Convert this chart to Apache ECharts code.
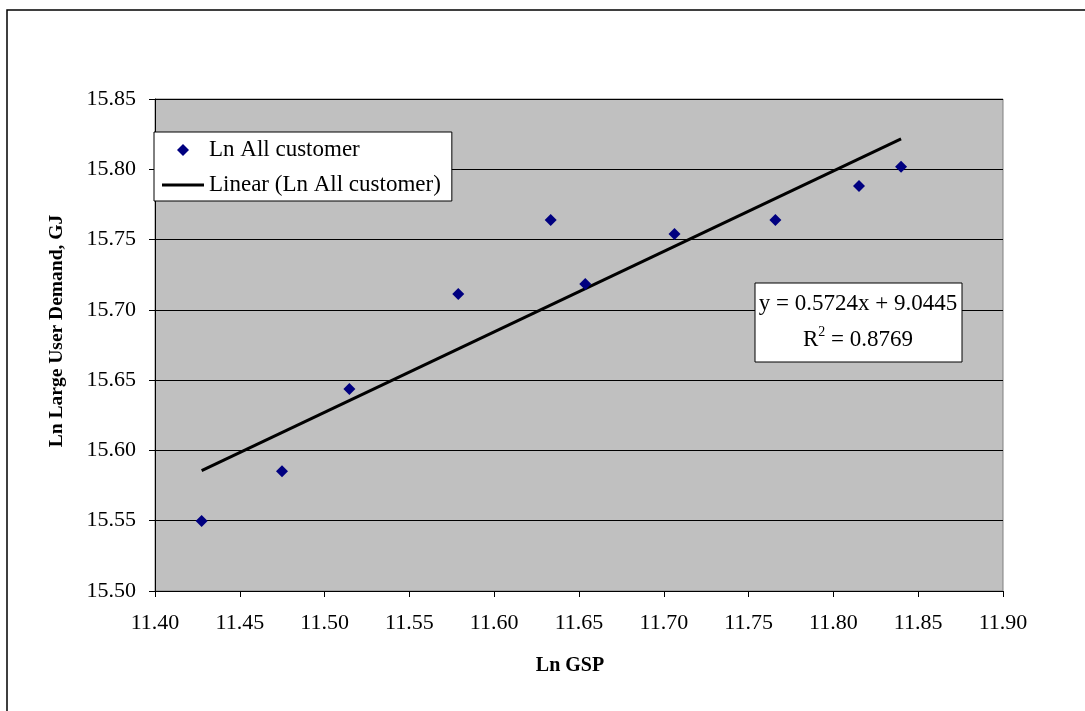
<!DOCTYPE html>
<html>
<head>
<meta charset="utf-8">
<script src="https://cdn.jsdelivr.net/npm/echarts@6/dist/echarts.min.js"></script>
<style>
html,body{margin:0;padding:0;background:#fff;}
#chart{width:1085px;height:711px;}
</style>
</head>
<body>
<div id="chart"></div>
<script>
// ---- data ----
const lnGSP = [11.4275, 11.4749, 11.5146, 11.5788, 11.6333, 11.6537, 11.7063, 11.7658, 11.8151, 11.8399];
const lnDemand = [15.5498, 15.5851, 15.6437, 15.7113, 15.7640, 15.7184, 15.7540, 15.7640, 15.7881, 15.8018];
const trendX = [11.4275, 11.8399];
const trendY = [15.5856, 15.8216];
const seriesNames = ['Ln All customer', 'Linear (Ln All customer)'];
const equationText = 'y = 0.5724x + 9.0445';
const r2Text = '0.8769';
const xTitle = 'Ln GSP';
const yTitle = 'Ln Large User Demand, GJ';

const FONT = '"Liberation Serif", "DejaVu Serif", serif';

// legend icons: bounding box 42x13 kept by the leading moves
const ICON_DIAMOND = 'path://M0,0 M42,13 M21,0.5 L27,6.5 L21,12.5 L15,6.5 Z';
const ICON_LINE = 'path://M0,0 M42,13 M0,5 L42,5 L42,8 L0,8 Z';

const chart = echarts.init(document.getElementById('chart'), null, {renderer: 'canvas'});
const option = {
  backgroundColor: '#ffffff',
  animation: false,
  grid: {left: 155, top: 99, width: 848, height: 492, show: true, backgroundColor: '#c0c0c0', borderColor: '#808080', borderWidth: 1},
  xAxis: {
    type: 'value', min: 11.40, max: 11.90, interval: 0.05,
    name: xTitle, nameLocation: 'middle', nameGap: 65,
    nameTextStyle: {fontFamily: FONT, fontWeight: 'bold', fontSize: 20, color: '#000', padding: [0, 18, 0, 0]},
    axisLine: {show: true, onZero: false, lineStyle: {color: '#000', width: 1}},
    axisTick: {show: true, inside: false, length: 6, lineStyle: {color: '#000'}},
    axisLabel: {fontFamily: FONT, fontSize: 22, color: '#000', margin: 21, formatter: v => v.toFixed(2)},
    splitLine: {show: false}
  },
  yAxis: {
    type: 'value', min: 15.50, max: 15.85, interval: 0.05,
    name: yTitle, nameLocation: 'middle', nameGap: 88, nameRotate: 90,
    nameTextStyle: {fontFamily: FONT, fontWeight: 'bold', fontSize: 19.5, color: '#000', padding: [0, 0, 0, 28]},
    axisLine: {show: true, onZero: false, lineStyle: {color: '#000', width: 1}},
    axisTick: {show: true, inside: false, length: 6, lineStyle: {color: '#000'}},
    axisLabel: {fontFamily: FONT, fontSize: 22, color: '#000', margin: 19, formatter: v => v.toFixed(2)},
    splitLine: {show: true, lineStyle: {color: '#000', width: 1}}
  },
  legend: {
    orient: 'vertical', left: 154, top: 132,
    backgroundColor: '#ffffff', borderColor: '#000', borderWidth: 1,
    padding: [5, 11, 3, 8], itemGap: 9, itemWidth: 42, itemHeight: 13,
    symbolKeepAspect: true,
    textStyle: {fontFamily: FONT, fontSize: 23, color: '#000', lineHeight: 26},
    data: [
      {name: seriesNames[0], icon: ICON_DIAMOND, itemStyle: {color: '#000080', opacity: 1}},
      {name: seriesNames[1], icon: ICON_LINE, itemStyle: {color: '#000', opacity: 1}}
    ]
  },
  series: [
    {
      name: seriesNames[0], type: 'scatter', symbol: 'diamond', symbolSize: 12, symbolKeepAspect: true,
      itemStyle: {color: '#000080', opacity: 1},
      data: lnGSP.map((x, i) => [x, lnDemand[i]]),
      z: 3
    },
    {
      name: seriesNames[1], type: 'line', showSymbol: false, symbol: 'none',
      lineStyle: {color: '#000', width: 3},
      itemStyle: {color: '#000'},
      data: trendX.map((x, i) => [x, trendY[i]]),
      z: 2
    }
  ],
  graphic: [
    {type: 'rect', silent: true, z: -10, shape: {x: 7, y: 10, width: 1200, height: 900}, style: {fill: 'none', stroke: '#000', lineWidth: 1.5}},
    {type: 'rect', z: 10, shape: {x: 755, y: 283, width: 207, height: 79}, style: {fill: '#fff', stroke: '#000', lineWidth: 1}},
    {type: 'text', z: 11, x: 858, y: 304, style: {text: equationText, fontFamily: FONT, fontSize: 23, fill: '#000', align: 'center', verticalAlign: 'middle'}},
    {type: 'text', z: 11, x: 858, y: 338, style: {
      text: '{r|R}{s|2}{r| = ' + r2Text + '}',
      align: 'center', verticalAlign: 'middle',
      rich: {
        r: {fontFamily: FONT, fontSize: 23, fill: '#000', verticalAlign: 'bottom', lineHeight: 26},
        s: {fontFamily: FONT, fontSize: 14, fill: '#000', verticalAlign: 'top', lineHeight: 26}
      }
    }}
  ]
};
chart.setOption(option);
</script>
</body>
</html>
